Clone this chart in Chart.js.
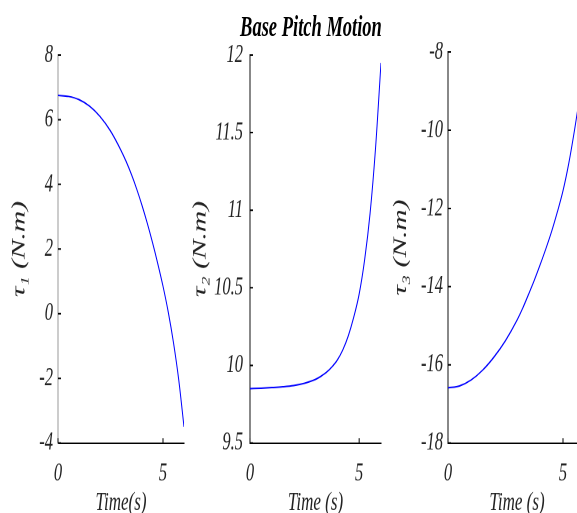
<!DOCTYPE html>
<html>
<head>
<meta charset="utf-8">
<script src="https://cdn.jsdelivr.net/npm/chart.js@4.4.0/dist/chart.umd.min.js"></script>
<style>
  html, body { margin: 0; padding: 0; background: #fff; overflow: hidden; width: 577px; height: 513px; }
  /* the figure is drawn squat and stretched tall, like the original export */
  #stage { position: absolute; left: 0; top: 0; width: 577px; height: 333px; transform: scaleY(1.55); transform-origin: 0 0; }
  .box { position: absolute; top: 0; height: 333px; }
  #title { position: absolute; left: 0; width: 622px; top: 8.3px; text-align: center; white-space: nowrap;
           font: italic bold 18.5px "Liberation Serif", serif; line-height: 1; color: #000; }
</style>
</head>
<body>
<div id="stage">
  <div id="title">Base Pitch Motion</div>
  <div class="box" style="left:0px; width:189px;"><canvas id="c1"></canvas></div>
  <div class="box" style="left:185px; width:201px;"><canvas id="c2"></canvas></div>
  <div class="box" style="left:385px; width:206px;"><canvas id="c3"></canvas></div>
</div>
<script>
const K = 1.55;   // vertical stretch
const H = 333;    // box height before stretch

const time = [0, 0.5, 1, 1.5, 2, 2.5, 3, 3.25, 3.5, 3.75, 4, 4.25, 4.5, 4.75, 5, 5.25, 5.5, 5.75, 6];
const tau1 = [6.75, 6.72, 6.62, 6.42, 6.10, 5.65, 5.05, 4.70, 4.30, 3.85, 3.35, 2.80, 2.20, 1.55, 0.85, 0.05, -0.90, -2.05, -3.50];
const tau2 = [9.850, 9.853, 9.857, 9.862, 9.870, 9.885, 9.910, 9.930, 9.955, 9.990, 10.035, 10.10, 10.19, 10.31, 10.46, 10.68, 10.98, 11.40, 11.95];
const tau3 = [-16.59, -16.54, -16.39, -16.14, -15.80, -15.38, -14.86, -14.55, -14.20, -13.84, -13.45, -13.04, -12.60, -12.10, -11.55, -10.85, -10.00, -9.05];

const xTicks = [0, 5];
const yTicks1 = [-4, -2, 0, 2, 4, 6, 8];
const yTicks2 = [9.5, 10, 10.5, 11, 11.5, 12];
const yTicks3 = [-18, -16, -14, -12, -10, -8];

Chart.defaults.font.family = '"Liberation Serif", "Times New Roman", serif';

// matlab style ticks, pointing into the plot
const inwardTicks = {
  id: 'inwardTicks',
  afterDatasetsDraw(chart) {
    const {ctx, chartArea, scales: {x, y}} = chart;
    ctx.save();
    ctx.strokeStyle = '#000';
    ctx.lineWidth = 1;
    ctx.beginPath();
    x.ticks.forEach(t => {
      const px = x.getPixelForValue(t.value);
      ctx.moveTo(px, chartArea.bottom);
      ctx.lineTo(px, chartArea.bottom - 5 / K);
    });
    y.ticks.forEach(t => {
      const py = y.getPixelForValue(t.value);
      ctx.moveTo(chartArea.left, py);
      ctx.lineTo(chartArea.left + 3, py);
    });
    ctx.stroke();
    ctx.restore();
  }
};

function build(id, values, yTicks, cfg) {
  const points = values.map((v, i) => ({x: time[i], y: v}));
  return new Chart(document.getElementById(id), {
    type: 'line',
    data: {
      datasets: [{
        data: points,
        borderColor: '#0000ff',
        borderWidth: 1,
        pointRadius: 0,
        cubicInterpolationMode: 'monotone',
        fill: false
      }]
    },
    options: {
      responsive: true,
      maintainAspectRatio: false,
      animation: false,
      devicePixelRatio: 2,
      layout: { padding: { top: cfg.top / K, right: 5, left: 0, bottom: 0 } },
      plugins: { legend: { display: false }, tooltip: { enabled: false } },
      scales: {
        x: {
          type: 'linear',
          min: 0,
          max: 6,
          afterBuildTicks: s => { s.ticks = xTicks.map(v => ({value: v})); },
          afterFit: s => { s.height = H - 443 / K; },
          grid: { drawOnChartArea: false, drawTicks: false },
          border: { color: '#000', width: 1 },
          ticks: { padding: 10, color: '#222', maxRotation: 0, font: { size: 16.5, style: 'italic' }, callback: v => String(v) },
          title: { display: true, text: cfg.xTitle, color: '#222', padding: 0, font: { size: 17, style: 'italic', lineHeight: 1 } }
        },
        y: {
          type: 'linear',
          min: yTicks[0],
          max: yTicks[yTicks.length - 1],
          afterBuildTicks: s => { s.ticks = yTicks.map(v => ({value: v})); },
          afterFit: s => { s.width = cfg.yWidth; },
          grid: { drawOnChartArea: false, drawTicks: false },
          border: { color: cfg.yColor, width: 1 },
          ticks: { padding: cfg.tickPad, color: '#222', font: { size: 16.5, style: 'italic' }, callback: v => String(v) },
          title: { display: true, text: cfg.yTitle, color: '#222', padding: { top: cfg.titlePad }, font: { size: 19, style: 'italic' } }
        }
      }
    },
    plugins: [inwardTicks]
  });
}

build('c1', tau1, yTicks1, { top: 55, yWidth: 58, tickPad: 5, titlePad: 8.1, yColor: '#999', xTitle: 'Time(s)', yTitle: 'τ₁ (N.m)' });
build('c2', tau2, yTicks2, { top: 55, yWidth: 65, tickPad: 7, titlePad: 4.1, yColor: '#111', xTitle: 'Time (s)', yTitle: 'τ₂ (N.m)' });
build('c3', tau3, yTicks3, { top: 52, yWidth: 63, tickPad: 5, titlePad: 4.6, yColor: '#111', xTitle: 'Time (s)', yTitle: 'τ₃ (N.m)' });
</script>
</body>
</html>
